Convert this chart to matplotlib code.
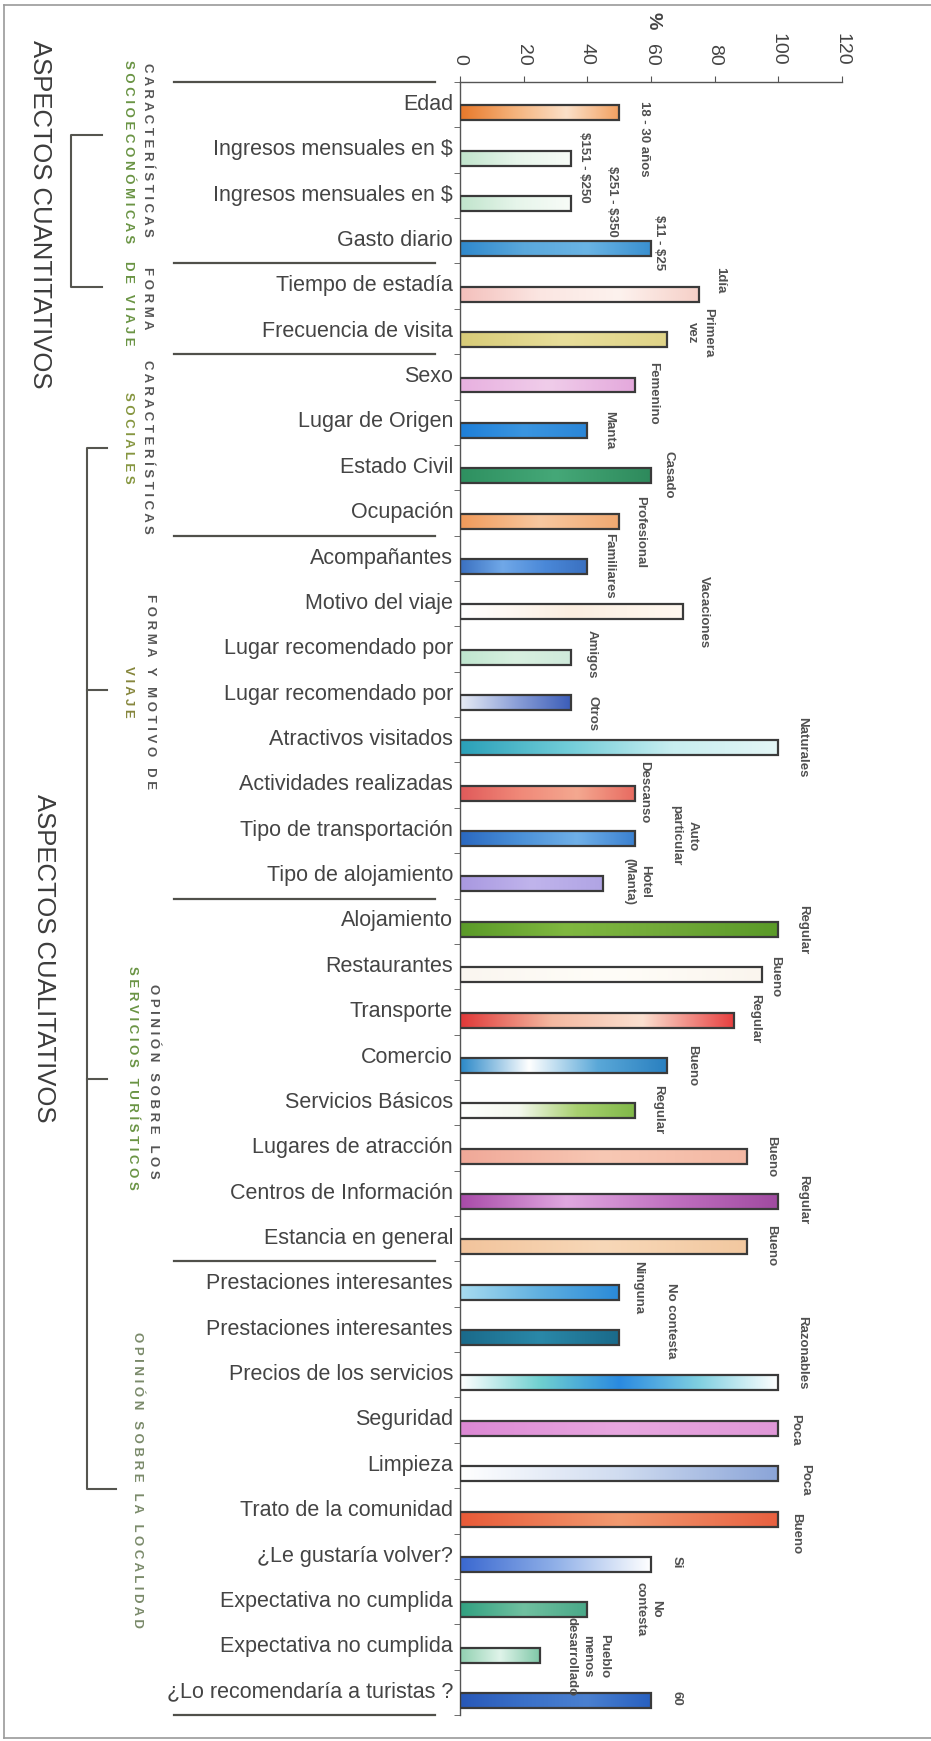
import numpy as np
import matplotlib
matplotlib.use("Agg")
import matplotlib.pyplot as plt
import matplotlib.transforms as mtransforms
from matplotlib.colors import LinearSegmentedColormap
from matplotlib.lines import Line2D

plt.rcParams['font.family'] = ['Liberation Sans', 'DejaVu Sans']

W, H = 931, 1741

categories = [
    "Edad", "Ingresos mensuales en \\$", "Ingresos mensuales en \\$", "Gasto diario",
    "Tiempo de estadía", "Frecuencia de visita",
    "Sexo", "Lugar de Origen", "Estado Civil", "Ocupación",
    "Acompañantes", "Motivo del viaje", "Lugar recomendado por", "Lugar recomendado por",
    "Atractivos visitados", "Actividades realizadas", "Tipo de transportación",
    "Tipo de alojamiento",
    "Alojamiento", "Restaurantes", "Transporte", "Comercio", "Servicios Básicos",
    "Lugares de atracción", "Centros de Información", "Estancia en general",
    "Prestaciones interesantes", "Prestaciones interesantes", "Precios de los servicios",
    "Seguridad", "Limpieza", "Trato de la comunidad", "¿Le gustaría volver?",
    "Expectativa no cumplida", "Expectativa no cumplida", "¿Lo recomendaría a turistas ?",
]
values = [50, 35, 35, 60, 75, 65, 55, 40, 60, 50, 40, 70, 35, 35, 100, 55, 55, 45,
          100, 95, 86, 65, 55, 90, 100, 90, 50, 50, 100, 100, 100, 100, 60, 40, 25, 60]
bar_labels = [
    "18 - 30 años", "\\$151 - \\$250", "\\$251 - \\$350", "\\$11 - \\$25", "1día",
    "Primera\nvez", "Femenino", "Manta", "Casado", "Profesional", "Familiares",
    "Vacaciones", "Amigos", "Otros", "Naturales", "Descanso", "Auto\nparticular",
    "Hotel\n(Manta)", "Regular", "Bueno", "Regular", "Bueno", "Regular", "Bueno",
    "Regular", "Bueno", "Ninguna", "No contesta", "Razonables", "Poca", "Poca", "Bueno",
    "Si", "No\ncontesta", "Pueblo\nmenos\ndesarrollado", "60",
]

# section boundaries (between category slots)
section_edges = [-0.5, 3.5, 5.5, 9.5, 17.5, 25.5, 35.5]

# label placement tweaks, in pixels (gap right of bar end, shift along the bar axis)
label_gap = [25, 13, 41, 8, 21, 33, 18, 22, 18, 21, 22, 21, 20, 21, 24, 9, 49, 34,
             25, 13, 21, 25, 23, 25, 25, 25, 19, 52, 24, 17, 27, 18, 26, 61, 48, 26]
label_shift = [26, 9, -2, -6, -14, -7, 8, 0, -1, 11, -1, 0, -3, 11, -1, -1, -3, -2,
               0, 2, -1, 0, -1, 0, -2, -1, -5, -17, -30, 1, 6, 15, -2, -1, 1, -2]

bar_colors = [
    ['#e8782a', '#f5b27a', '#fbe0c8', '#f2a060'],
    ['#c0e4cc', '#e6f5ea', '#f8fcf8'],
    ['#c0e4cc', '#e6f5ea', '#f8fcf8'],
    ['#2f88cc', '#5aa8dc', '#6ab4e4', '#3a90d0'],
    ['#f4c0bc', '#fbe6e2', '#fdf2ee', '#f6d0c8'],
    ['#d8cc78', '#e8de9a', '#e0d488'],
    ['#e8b0e0', '#f0cdea', '#e4a8dc'],
    ['#1e7fd8', '#3a95e0', '#2a86d8'],
    ['#2e9060', '#45a878', '#2e8a5c'],
    ['#f09a5a', '#f8c8a0', '#f0a870'],
    ['#3a70c0', '#70a8e8', '#4a88d8', '#3a70c0'],
    ['#ffffff', '#fbeee0', '#fff8f0'],
    ['#bfe6cf', '#d8f0e0', '#cfeadb'],
    ['#e8ecf4', '#8ca0d8', '#3a5cb8'],
    ['#2aa0b8', '#70ccd8', '#c8eef0', '#e4f6f6'],
    ['#e05a5a', '#f08878', '#f4a890', '#e86a60'],
    ['#2a68c0', '#4a90d8', '#70b0e8', '#3a80d0'],
    ['#a898e0', '#c0b4ec', '#b0a4e4'],
    ['#5a9a28', '#80b840', '#70a838', '#5a9a28'],
    ['#faf6f0', '#fffdf8', '#faf5ee'],
    ['#e03838', '#f4b8a0', '#fbe0d0', '#e84040'],
    ['#2a88c8', '#ffffff', '#5aa8d8', '#2a80c0'],
    ['#ffffff', '#f4f8ee', '#a8d070', '#80b848'],
    ['#f0a898', '#f8c8b4', '#f4b8a4'],
    ['#a84aa8', '#e0a8e0', '#c070c0', '#a04aa0'],
    ['#f2c49c', '#f8d8b8', '#f2c8a0'],
    ['#a8dcf0', '#60b0e0', '#2a8ad8'],
    ['#1a6a8a', '#2a88a8', '#1a6a8a'],
    ['#ffffff', '#70d0d0', '#2a8ae0', '#80d0e0', '#ffffff'],
    ['#dc88d4', '#e8a8e0', '#e098d8'],
    ['#ffffff', '#d0dcf0', '#8aa4d8'],
    ['#e85a38', '#f29a70', '#e86040'],
    ['#3a68d0', '#90b0e8', '#ffffff'],
    ['#30a080', '#70c0a0', '#48a888'],
    ['#90d0b0', '#e0f4ea', '#80c8a8'],
    ['#2858b8', '#3a70c8', '#4a80d0', '#2860c0'],
]

GRAY = '#444444'
OLIVE = '#6a9444'

fig = plt.figure(figsize=(W / 100, H / 100), dpi=100)
fig.patch.set_facecolor('white')

# overlay in pixel coordinates for brackets / titles
ov = fig.add_axes([0, 0, 1, 1], zorder=0)
ov.set_xlim(0, W)
ov.set_ylim(H, 0)
ov.axis('off')

ax_left, ax_right, ax_top, ax_bottom = 460, 842, 82, 1715
ax = fig.add_axes([ax_left / W, 1 - ax_bottom / H, (ax_right - ax_left) / W,
                   (ax_bottom - ax_top) / H], zorder=1)
ax.set_facecolor('none')

n = len(categories)
bar_h = 0.33
bar_off = 0.18
pos = np.arange(n) + bar_off
px_per_unit = (ax_right - ax_left) / 120.0
px_per_slot = (ax_bottom - ax_top) / n

grad = np.linspace(0, 1, 256).reshape(1, -1)
for i, (v, stops) in enumerate(zip(values, bar_colors)):
    cmap = LinearSegmentedColormap.from_list('bar%d' % i, stops)
    y0 = pos[i] - bar_h / 2
    ax.imshow(grad, cmap=cmap, extent=[0, v, y0 + bar_h, y0], aspect='auto',
              interpolation='bicubic', zorder=2)

ax.barh(pos, values, height=bar_h, facecolor='none', edgecolor='#3a3a3a',
        linewidth=1.6, zorder=3)

for i, (v, lab) in enumerate(zip(values, bar_labels)):
    ax.text(v + label_gap[i] / px_per_unit, pos[i] + label_shift[i] / px_per_slot, lab,
            rotation=-90, ha='center', va='center', fontsize=9.5, fontweight='bold',
            color='#505050', multialignment='center', linespacing=1.5, zorder=4)

ax.set_xlim(0, 120)
ax.set_ylim(n - 0.5, -0.5)

ax.xaxis.tick_top()
ax.set_xticks(range(0, 121, 20))
ax.set_xticklabels([str(t) for t in range(0, 121, 20)], rotation=-90, fontsize=14,
                   color=GRAY)
ax.tick_params(axis='x', length=4, direction='out', pad=8, color='#555555')

ax.set_yticks(np.arange(n) - 0.06)
ax.set_yticklabels(categories, fontsize=15.5, color=GRAY)
ax.tick_params(axis='y', which='major', length=0, pad=5)
ax.set_yticks(np.arange(-0.5, n, 1), minor=True)
ax.tick_params(axis='y', which='minor', length=4, direction='out', color='#555555')

for s in ['right', 'bottom']:
    ax.spines[s].set_visible(False)
for s in ['top', 'left']:
    ax.spines[s].set_color('#555555')
    ax.spines[s].set_linewidth(1.0)

# section separators left of the axis
blend = mtransforms.blended_transform_factory(ax.transAxes, ax.transData)
x0 = (174 - ax_left) / (ax_right - ax_left)
x1 = (435 - ax_left) / (ax_right - ax_left)
for e in section_edges:
    ax.plot([x0, x1], [e, e], transform=blend, color='#50504a', lw=1.6,
            clip_on=False, zorder=2)

# percent sign
ov.text(653, 21, '%', rotation=-90, ha='center', va='center', fontsize=14,
        fontweight='bold', color=GRAY)

# brackets
bc = '#55554f'
ov.add_line(Line2D([102, 71, 71, 102], [135, 135, 287, 287], color=bc, lw=1.5))
ov.add_line(Line2D([107, 87, 87, 116], [448, 448, 1489, 1489], color=bc, lw=1.5))
for yy in [690, 1079]:
    ov.add_line(Line2D([87, 107], [yy, yy], color=bc, lw=1.5))

# outer frame
fc = '#9a9a9a'
ov.add_line(Line2D([4, 4], [5, 1738], color=fc, lw=1.2))
ov.add_line(Line2D([4, W], [5, 5], color=fc, lw=1.2))
ov.add_line(Line2D([4, W], [1738, 1738], color=fc, lw=1.2))

# main titles
ov.text(40, 214, 'ASPECTOS CUANTITATIVOS', rotation=-90, ha='center', va='center',
        fontsize=18.5, color='#3c3c3c')
ov.text(44, 958, 'ASPECTOS CUALITATIVOS', rotation=-90, ha='center', va='center',
        fontsize=18.5, color='#3c3c3c')


def spaced(s):
    return '   '.join(' '.join(w) for w in s.split())


group_texts = [
    (147, 150, 'CARACTERÍSTICAS', '#555555'),
    (128, 152, 'SOCIOECONÓMICAS', OLIVE),
    (147, 298, 'FORMA', '#555555'),
    (128, 303, 'DE VIAJE', OLIVE),
    (147, 447, 'CARACTERÍSTICAS', '#555555'),
    (128, 438, 'SOCIALES', '#869640'),
    (150, 692, 'FORMA Y MOTIVO DE', '#555555'),
    (128, 692, 'VIAJE', '#86863c'),
    (153, 1081, 'OPINIÓN SOBRE LOS', '#555555'),
    (132, 1078, 'SERVICIOS TURÍSTICOS', OLIVE),
    (137, 1480, 'OPINIÓN SOBRE LA LOCALIDAD', '#7a8a6a'),
]
for gx, gy, txt, col in group_texts:
    ov.text(gx, gy, spaced(txt), rotation=-90, ha='center', va='center', fontsize=9.5,
            fontweight='bold', color=col)

fig.savefig('out.png', dpi=100, facecolor='white')
